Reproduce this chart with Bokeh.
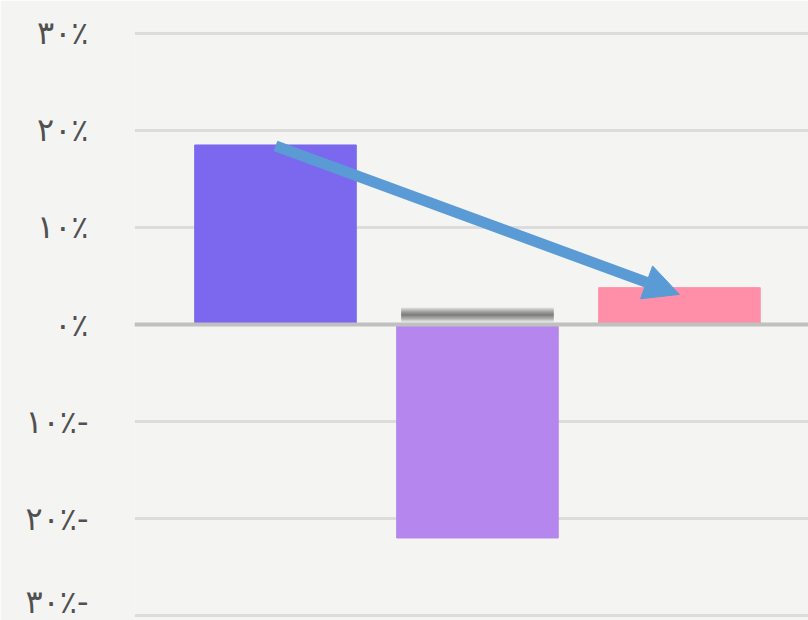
from bokeh.plotting import figure
from bokeh.models import Range1d, FixedTicker, Span, Arrow, NormalHead, ColumnDataSource
from bokeh.embed import file_html
from bokeh.resources import INLINE

# ---- data ----
categories = ["A", "B", "C"]
values = [18.5, -22.0, 3.8]
bar_colors = ["#7b68ee", "#b587ee", "#ff8fa8"]
marker_value = 1.0          # grey reference marker on the middle bar
arrow_from = 18.4           # arrow start level (bar 1)
arrow_to = 3.1              # arrow end level (bar 3)
tick_values = [-30, -20, -10, 0, 10, 20, 30]
tick_labels = ["۳۰٪-", "۲۰٪-", "۱۰٪-", "۰٪", "۱۰٪", "۲۰٪", "۳۰٪"]

xs = list(range(len(categories)))
src = ColumnDataSource(dict(x=xs, top=values, color=bar_colors, cat=categories))

BG = "#f4f4f2"
p = figure(width=808, height=620, output_backend="svg", toolbar_location=None,
           x_range=Range1d(-0.698, 2.639), y_range=Range1d(-30.4, 30.4),
           min_border_left=134, min_border_right=0, min_border_top=29, min_border_bottom=1,
           background_fill_color=BG, border_fill_color=BG, outline_line_color=None)

p.xaxis.visible = False
p.xgrid.visible = False
p.yaxis.ticker = FixedTicker(ticks=tick_values)
p.yaxis.major_label_overrides = {t: l for t, l in zip(tick_values, tick_labels)}
p.yaxis.axis_line_color = None
p.yaxis.major_tick_line_color = None
p.yaxis.minor_tick_line_color = None
p.yaxis.major_tick_out = 0
p.yaxis.major_tick_in = 0
p.yaxis.major_label_standoff = 46
p.yaxis.major_label_text_font = "DejaVu Sans"
p.yaxis.major_label_text_font_style = "normal"
p.yaxis.major_label_text_font_size = "32px"
p.yaxis.major_label_text_color = "#505050"
p.yaxis.major_label_text_baseline = "alphabetic"

p.ygrid.ticker = FixedTicker(ticks=tick_values)
p.ygrid.grid_line_color = "#dcdcdc"
p.ygrid.grid_line_width = 3

p.vbar(x="x", top="top", bottom=0, width=0.8, color="color", source=src)

# soft grey marker on middle bar (layered translucent strokes)
for w in [14, 11, 8, 5, 2]:
    p.segment(x0=[xs[1] - 0.378], x1=[xs[1] + 0.378], y0=[marker_value], y1=[marker_value],
              line_color="black", line_alpha=0.12, line_width=w, line_cap="butt")

p.add_layout(Span(location=0, dimension="width", line_color="#c0c0c0", line_width=4))

p.add_layout(Arrow(x_start=xs[0], y_start=arrow_from, x_end=xs[2], y_end=arrow_to,
                   line_color="#5b9bd5", line_width=11,
                   end=NormalHead(size=35, fill_color="#5b9bd5", line_color="#5b9bd5", line_width=1)))

open("out.html", "w").write(file_html(p, INLINE))
